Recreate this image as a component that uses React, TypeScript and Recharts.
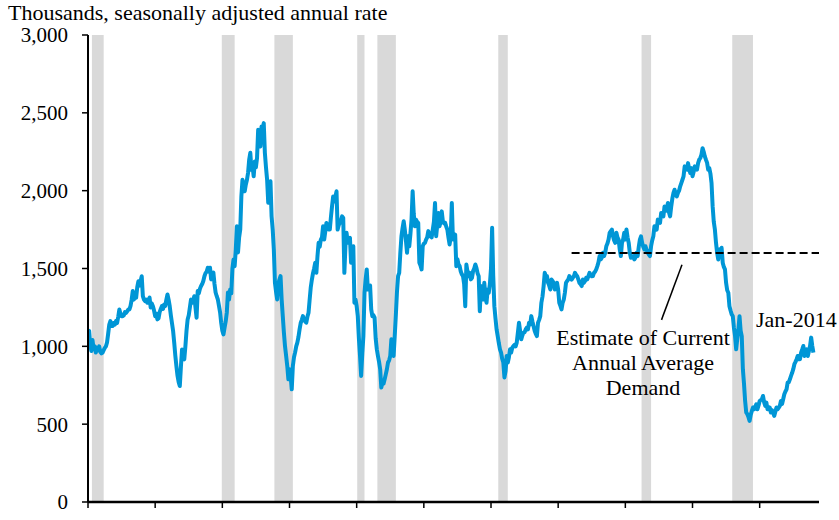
import React from 'react';
import {
  ComposedChart,
  Line,
  XAxis,
  YAxis,
  ReferenceArea,
  ReferenceLine,
} from 'recharts';

const FONT = '"Liberation Serif", "Times New Roman", serif';

// Housing starts, thousands SAAR, monthly from Jan-1960
const starts1960s = [
  1090, 1100, 1010, 970, 1040, 985, 1000, 960, 990, 975, 1000, 965,
  955, 960, 975, 990, 1000, 1025, 1080, 1140, 1162, 1130, 1130, 1150,
  1140, 1162, 1150, 1190, 1237, 1210, 1194, 1194, 1200, 1220, 1215, 1225,
  1237, 1237, 1260, 1300, 1355, 1300, 1330, 1312, 1380, 1418, 1390, 1420,
  1450, 1322, 1300, 1290, 1300, 1280, 1300, 1313, 1250, 1275, 1258, 1230,
  1194, 1210, 1173, 1180, 1220, 1240, 1258, 1240, 1269, 1260, 1300, 1333,
  1300, 1258, 1200, 1150, 1100, 1025, 940, 870, 810, 770, 745, 870,
  980, 940, 916, 1000, 1100, 1173, 1200, 1250, 1300, 1280, 1300, 1322,
  1250, 1184, 1355, 1340, 1370, 1387, 1400, 1420, 1450, 1470, 1480, 1505,
  1480, 1505, 1430, 1460, 1474, 1400, 1346, 1322, 1301, 1260, 1218, 1150,
];

const starts1970s = [
  1100, 1077, 1120, 1160, 1218, 1346, 1300, 1365, 1340, 1500, 1558, 1515,
  1620, 1771, 1603, 1700, 1750, 1963, 2070, 2030, 1996, 2040, 2070, 2115,
  2200, 2243, 2135, 2160, 2092, 2188, 2150, 2210, 2391, 2300, 2284, 2412,
  2400, 2434, 2243, 2150, 2070, 1923, 2000, 2060, 1835, 1750, 1622, 1408,
  1350, 1301, 1400, 1429, 1451, 1300, 1194, 1088, 1000, 938, 874, 788,
  853, 810, 724, 874, 930, 961, 1000, 1024, 1060, 1109, 1150, 1170,
  1194, 1170, 1160, 1152, 1190, 1216, 1300, 1380, 1429, 1470, 1500, 1537,
  1472, 1580, 1665, 1640, 1686, 1700, 1771, 1686, 1740, 1793, 1760, 1750,
  1750, 1830, 1900, 1963, 1930, 1960, 1996, 1750, 1780, 1793, 1810, 1835,
  1825, 1472, 1650, 1729, 1665, 1690, 1697, 1537, 1590, 1643, 1280, 1300,
];

const starts1980s = [
  1258, 1194, 1050, 938, 810, 950, 1066, 1344, 1430, 1494, 1365, 1387,
  1390, 1237, 1194, 1200, 1184, 1050, 981, 938, 900, 853, 735, 767,
  760, 788, 820, 853, 896, 910, 938, 1045, 980, 938, 1066, 1200,
  1350, 1451, 1472, 1600, 1707, 1760, 1803, 1750, 1680, 1601, 1707, 1643,
  1720, 1814, 1996, 1850, 1771, 1814, 1800, 1793, 1537, 1520, 1494, 1643,
  1660, 1665, 1686, 1700, 1740, 1707, 1720, 1700, 1750, 1800, 1921, 1707,
  1780, 1857, 1771, 1800, 1867, 1803, 1790, 1793, 1770, 1750, 1700, 1654,
  1700, 1921, 1686, 1700, 1718, 1515, 1560, 1526, 1515, 1480, 1462, 1451,
  1400, 1258, 1526, 1480, 1451, 1472, 1430, 1440, 1483, 1500, 1526, 1504,
  1470, 1451, 1226, 1387, 1365, 1301, 1408, 1322, 1280, 1365, 1344, 1400,
];

const starts1990s = [
  1500, 1761, 1451, 1258, 1180, 1109, 1066, 1020, 981, 960, 920, 896,
  800, 840, 938, 896, 930, 981, 960, 990, 1002, 1010, 1000, 1024,
  1088, 1152, 1100, 1045, 1070, 1088, 1090, 1109, 1120, 1109, 1152, 1140,
  1194, 1160, 1130, 1100, 1080, 1066, 1152, 1170, 1194, 1280, 1320, 1387,
  1472, 1450, 1451, 1408, 1390, 1365, 1429, 1420, 1408, 1365, 1390, 1408,
  1365, 1280, 1260, 1237, 1280, 1300, 1344, 1408, 1420, 1429, 1451, 1440,
  1429, 1440, 1450, 1472, 1460, 1451, 1430, 1408, 1400, 1387, 1429, 1408,
  1420, 1440, 1430, 1451, 1472, 1460, 1450, 1451, 1472, 1480, 1494, 1515,
  1540, 1580, 1558, 1570, 1601, 1580, 1600, 1643, 1660, 1686, 1729, 1740,
  1750, 1707, 1680, 1665, 1729, 1700, 1686, 1622, 1580, 1665, 1686, 1729,
];

const starts2000s = [
  1686, 1750, 1700, 1665, 1601, 1569, 1575, 1580, 1558, 1570, 1601, 1580,
  1640, 1686, 1707, 1665, 1640, 1622, 1643, 1620, 1601, 1590, 1580, 1643,
  1680, 1707, 1771, 1760, 1750, 1814, 1800, 1793, 1857, 1840, 1835, 1899,
  1870, 1878, 1921, 1860, 1835, 1899, 1950, 1985, 2006, 1980, 1963, 1985,
  2000, 2028, 2049, 2070, 2092, 2156, 2140, 2135, 2177, 2140, 2113, 2145,
  2092, 2120, 2156, 2145, 2135, 2177, 2199, 2210, 2231, 2273, 2250, 2220,
  2199, 2180, 2135, 2145, 2110, 2049, 1899, 1800, 1750, 1665, 1600, 1558,
  1622, 1600, 1633, 1537, 1510, 1494, 1408, 1360, 1344, 1258, 1230, 1205,
  1194, 1120, 1066, 981, 1050, 1109, 1194, 1100, 1066, 853, 760, 650,
  575, 564, 545, 521, 560, 585, 607, 596, 610, 628, 596, 620,
];

const starts2010s = [
  649, 655, 660, 681, 640, 617, 639, 596, 610, 607, 575, 590,
  575, 553, 580, 607, 596, 605, 617, 649, 630, 660, 692, 710,
  724, 767, 770, 788, 810, 830, 853, 885, 900, 917, 938, 917,
  917, 960, 980, 1002, 938, 960, 981, 938, 970, 1002, 1056, 1002,
  960,
];

const MONTHS = ['Jan', 'Feb', 'Mar', 'Apr', 'May', 'Jun', 'Jul', 'Aug', 'Sep', 'Oct', 'Nov', 'Dec'];

// NBER recessions (peak month / trough month)
const recessionStart = ['1960-04', '1969-12', '1973-11', '1980-01', '1981-07', '1990-07', '2001-03', '2007-12'];
const recessionEnd = ['1961-02', '1970-11', '1975-03', '1980-07', '1982-11', '1991-03', '2001-11', '2009-06'];

const yTicks = [0, 500, 1000, 1500, 2000, 2500, 3000];
const xTicks = [0, 60, 120, 180, 240, 300, 360, 420, 480, 540, 600];

const demandLevel = 1600;
const demandFrom = '1996-01';

function monthIndex(s: string) {
  const [y, m] = s.split('-').map(Number);
  return (y - 1960) * 12 + (m - 1);
}

const allStarts = [
  ...starts1960s,
  ...starts1970s,
  ...starts1980s,
  ...starts1990s,
  ...starts2000s,
  ...starts2010s,
];

const data = allStarts.map((v, i) => ({
  m: i,
  label: `${MONTHS[i % 12]}-${1960 + Math.floor(i / 12)}`,
  starts: v,
}));

const X_MAX = 653;

const fmt = (v: number) => v.toLocaleString('en-US');

export default function App() {
  return (
    <div style={{ position: 'relative', width: 839, height: 520, fontFamily: FONT }}>
      <style>{'body{margin:0}'}</style>
      <ComposedChart
        width={839}
        height={520}
        data={data}
        margin={{ top: 35, right: 20, bottom: 6, left: 0 }}
      >
        {recessionStart.map((s, i) => (
          <ReferenceArea
            key={s}
            x1={monthIndex(s) + 0.5}
            x2={monthIndex(recessionEnd[i]) + 1}
            y1={0}
            y2={3000}
            fill="#d9d9d9"
            fillOpacity={1}
            stroke="none"
          />
        ))}
        <XAxis
          dataKey="m"
          type="number"
          domain={[0, X_MAX]}
          ticks={xTicks}
          tickFormatter={() => ''}
          tickSize={6}
          height={12}
          axisLine={{ stroke: '#000', strokeWidth: 2.5 }}
          tickLine={{ stroke: '#000', strokeWidth: 1.5 }}
          allowDataOverflow
        />
        <YAxis
          domain={[0, 3000]}
          ticks={yTicks}
          tickFormatter={fmt}
          width={88}
          tickSize={6}
          tickMargin={14}
          axisLine={{ stroke: '#000', strokeWidth: 2 }}
          tickLine={{ stroke: '#000', strokeWidth: 1.5 }}
          tick={{ fill: '#000', fontSize: 21, fontFamily: FONT }}
        />
        <Line
          dataKey="starts"
          type="linear"
          stroke="#0096d6"
          strokeWidth={4}
          strokeLinejoin="round"
          dot={false}
          isAnimationActive={false}
        />
        <ReferenceLine
          segment={[
            { x: monthIndex(demandFrom), y: demandLevel },
            { x: X_MAX, y: demandLevel },
          ]}
          stroke="#000"
          strokeWidth={2}
          strokeDasharray="8 4"
        />
        <ReferenceLine
          segment={[
            { x: 530.6, y: 1524 },
            { x: 512.3, y: 1170 },
          ]}
          stroke="#000"
          strokeWidth={1.5}
        />
      </ComposedChart>
      <svg
        width={839}
        height={520}
        style={{ position: 'absolute', left: 0, top: 0, pointerEvents: 'none' }}
        fontFamily={FONT}
        fontSize={22}
        fill="#000"
      >
        <text x={8} y={20}>Thousands, seasonally adjusted annual rate</text>
        <text x={643} y={345} textAnchor="middle">Estimate of Current</text>
        <text x={643} y={370} textAnchor="middle">Annual Average</text>
        <text x={643} y={395} textAnchor="middle">Demand</text>
        <text x={756} y={327}>Jan-2014</text>
      </svg>
    </div>
  );
}
